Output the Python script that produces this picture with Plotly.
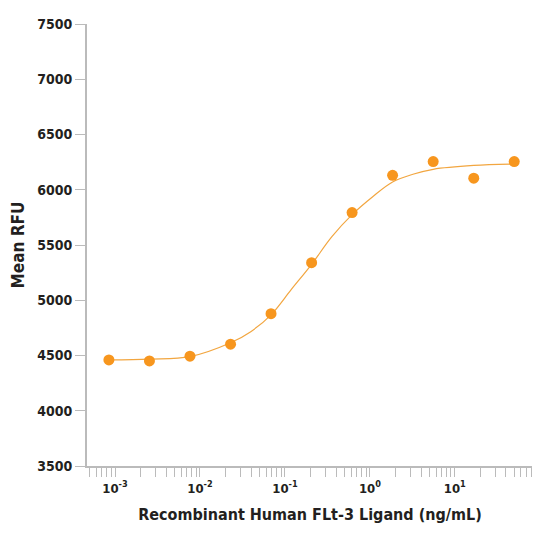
import plotly.graph_objects as go

# measured points (ng/mL vs Mean RFU)
conc = [0.000847, 0.00254, 0.00762, 0.0229, 0.0686, 0.206, 0.617, 1.85, 5.56, 16.7, 50]
rfu = [4460, 4451, 4494, 4602, 4878, 5340, 5793, 6131, 6255, 6105, 6255]

# fitted curve
curve_x = [0.000847, 0.00254, 0.00762, 0.0229, 0.0396, 0.0686, 0.119, 0.206,
           0.357, 0.617, 1.07, 1.85, 3.21, 5.56, 16.7, 50]
curve_y = [4460, 4468, 4490, 4615, 4716, 4868, 5098, 5325,
           5575, 5775, 5935, 6070, 6140, 6185, 6220, 6232]

tick_vals = [0.001, 0.01, 0.1, 1, 10]
tick_text = ['10<sup>-3</sup>', '10<sup>-2</sup>', '10<sup>-1</sup>', '10<sup>0</sup>', '10<sup>1</sup>']

font_family = 'DejaVu Sans Condensed, Roboto, Liberation Sans, Arial'
ink = '#231F20'
axis_grey = '#BBBBBB'

fig = go.Figure()
fig.add_trace(go.Scatter(
    x=curve_x, y=curve_y, mode='lines',
    line=dict(color='#F2A640', width=1.2, shape='spline', smoothing=1.0),
    hoverinfo='skip', showlegend=False
))
fig.add_trace(go.Scatter(
    x=conc, y=rfu, mode='markers',
    marker=dict(color='#F7961E', size=11),
    showlegend=False
))

fig.update_layout(
    width=532, height=532,
    plot_bgcolor='white',
    paper_bgcolor='white',
    font=dict(family=font_family, size=15, color=ink),
    margin=dict(l=79, r=7, t=16, b=74),
    xaxis=dict(
        type='log',
        range=[-3.33, 1.92],
        automargin=False,
        tickvals=tick_vals,
        ticktext=tick_text,
        ticks='outside', ticklen=9, tickcolor=axis_grey, tickwidth=1,
        showline=True, linecolor=axis_grey, linewidth=2,
        showgrid=False, zeroline=False,
        tickfont=dict(family=font_family, size=13, color=ink, weight='bold'),
        minor=dict(ticks='outside', ticklen=9, tickcolor=axis_grey, dtick='D1', showgrid=False),
        title=dict(text='Recombinant Human FLt-3 Ligand (ng/mL)',
                   font=dict(family=font_family, size=16, color=ink, weight='bold'),
                   standoff=14),
    ),
    yaxis=dict(
        range=[3500, 7500],
        automargin=False,
        tickvals=[3500, 4000, 4500, 5000, 5500, 6000, 6500, 7000, 7500],
        ticks='outside', ticklen=10, tickcolor=axis_grey, tickwidth=1,
        showline=True, linecolor=axis_grey, linewidth=2,
        showgrid=False, zeroline=False,
        tickfont=dict(family=font_family, size=14, color=ink, weight='bold'),
        tickformat='d',
        title=dict(text='Mean RFU',
                   font=dict(family=font_family, size=17, color=ink, weight='bold'),
                   standoff=12),
    ),
)

fig.write_html('out.html')
